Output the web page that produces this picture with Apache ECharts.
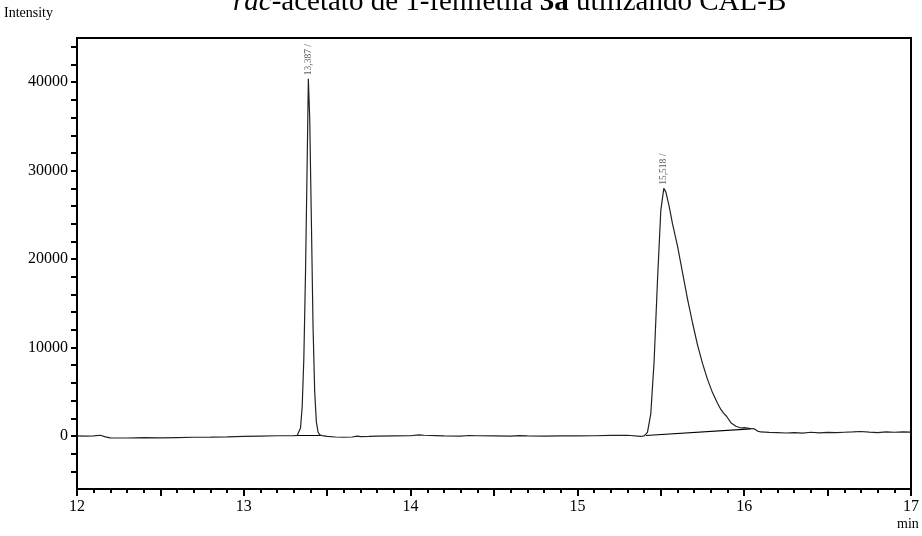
<!DOCTYPE html>
<html>
<head>
<meta charset="utf-8">
<script src="https://cdn.jsdelivr.net/npm/echarts@6/dist/echarts.min.js"></script>
<style>html,body{margin:0;padding:0;background:#fff}#c{width:922px;height:536px}</style>
</head>
<body>
<div id="c"></div>
<script>
// Chromatogram trace (time in min, intensity)
var times = [12.00,12.05,12.10,12.14,12.17,12.20,12.30,12.40,12.50,12.60,12.70,12.80,12.90,13.00,13.10,13.20,13.30,
  13.32,13.33,13.34,13.35,13.36,13.37,13.38,13.387,13.395,13.405,13.415,13.425,13.435,13.445,13.455,13.47,
  13.50,13.55,13.60,13.65,13.68,13.70,13.75,13.80,13.90,14.00,14.05,14.08,14.15,14.20,14.30,14.35,14.40,14.50,14.60,14.65,14.70,14.80,14.90,15.00,15.10,15.20,15.30,15.38,
  15.40,15.42,15.44,15.46,15.48,15.50,15.518,15.53,15.55,15.57,15.60,15.63,15.66,15.69,15.72,15.75,15.78,15.81,15.84,15.86,15.875,15.885,15.895,15.92,15.95,15.98,16.00,16.03,16.06,16.08,16.10,
  16.15,16.20,16.25,16.30,16.35,16.40,16.45,16.50,16.55,16.60,16.65,16.70,16.75,16.80,16.85,16.90,16.95,17.00];
var intensity = [0,-20,0,80,-100,-220,-230,-200,-210,-180,-150,-130,-100,-60,-20,20,40,
  60,250,900,3300,8800,18500,31000,40400,36000,24500,12500,5000,1600,450,120,30,
  -50,-120,-150,-120,-20,-80,-60,-30,0,20,120,80,40,10,-20,50,20,0,-20,40,0,-20,10,0,20,60,80,-60,
  0,400,2500,8500,17500,25500,28000,27600,26000,24000,21500,18500,15500,12800,10300,8200,6400,4900,3700,3000,2600,2800,2200,1500,1100,900,950,850,800,550,450,
  400,380,330,380,320,420,350,400,380,420,450,500,430,380,450,420,460,430];

// Integration baselines
var base1 = [[13.31, 50], [13.46, 50]];
var base2 = [[15.41, 50], [16.04, 800]];

// Peak annotations
var peakTimes = [13.387, 15.518];
var peakHeights = [40400, 28000];
var peakLabels = ['13,387 /', '15,518 /'];

// Axis ticks
var yTicks = [-4000,-2000,0,2000,4000,6000,8000,10000,12000,14000,16000,18000,20000,22000,24000,26000,28000,30000,32000,34000,36000,38000,40000,42000,44000];
var yLabels = [0,10000,20000,30000,40000];

var FONT = 'Liberation Serif';
var trace = times.map(function(t,i){return [t, intensity[i]];});
var peaks = peakTimes.map(function(t,i){return {value:[t, peakHeights[i]], name: peakLabels[i]};});

var chart = echarts.init(document.getElementById('c'), null, {renderer:'canvas'});
chart.setOption({
  animation: false,
  backgroundColor: '#fff',
  title: {
    text: '{i|rac}-acetato de 1-feniletila {b|3a} utilizando CAL-B',
    left: 228, top: -17,
    textStyle: {
      fontFamily: FONT, fontSize: 29, fontWeight: 'normal', color: '#000',
      rich: {
        i: {fontFamily: FONT, fontSize: 29, fontStyle: 'italic', color: '#000'},
        b: {fontFamily: FONT, fontSize: 29, fontWeight: 'bold', color: '#000'}
      }
    }
  },
  graphic: [
    {type:'text', left: 4, top: 6, style:{text:'Intensity', font:'14px "Liberation Serif"', fill:'#000'}},
    {type:'text', left: 897, top: 517, style:{text:'min', font:'14px "Liberation Serif"', fill:'#000'}}
  ],
  grid: {left: 77, right: 8, top: 38, bottom: 47, show: true, borderColor: '#000', borderWidth: 2, backgroundColor: 'transparent'},
  xAxis: {
    type: 'value', min: 12, max: 17, interval: 0.5,
    axisLine: {show: true, onZero: false, lineStyle: {color: '#000', width: 2}},
    axisTick: {show: true, length: 7, lineStyle: {color: '#000', width: 2}},
    minorTick: {show: true, splitNumber: 5, length: 4, lineStyle: {color: '#000', width: 2}},
    axisLabel: {
      color: '#000', fontFamily: FONT, fontSize: 16, margin: 10,
      formatter: function(v){ return Math.abs(v - Math.round(v)) < 1e-6 ? String(Math.round(v)) : ''; }
    },
    splitLine: {show: false}
  },
  yAxis: {
    type: 'value', min: -6000, max: 45000,
    axisLine: {show: true, onZero: false, lineStyle: {color: '#000', width: 2}},
    axisTick: {show: true, length: 6, customValues: yTicks, lineStyle: {color: '#000', width: 2}},
    axisLabel: {color: '#000', fontFamily: FONT, fontSize: 16, margin: 9, customValues: yLabels,
      formatter: function(v){ return String(v); }},
    splitLine: {show: false}
  },
  series: [
    {type: 'line', data: trace, showSymbol: false, symbol: 'none', lineStyle: {color: '#222', width: 1.2}, z: 3},
    {type: 'line', data: base1, showSymbol: false, symbol: 'none', lineStyle: {color: '#000', width: 1.2}, z: 2},
    {type: 'line', data: base2, showSymbol: false, symbol: 'none', lineStyle: {color: '#000', width: 1.2}, z: 2},
    {type: 'scatter', data: peaks, symbolSize: 1, itemStyle: {color: 'rgba(0,0,0,0)'},
     label: {show: true, position: 'top', distance: 3, rotate: 90, align: 'left', verticalAlign: 'middle',
             fontFamily: FONT, fontSize: 9.5, color: '#333', formatter: function(p){return p.name;}}}
  ]
});
</script>
</body>
</html>
